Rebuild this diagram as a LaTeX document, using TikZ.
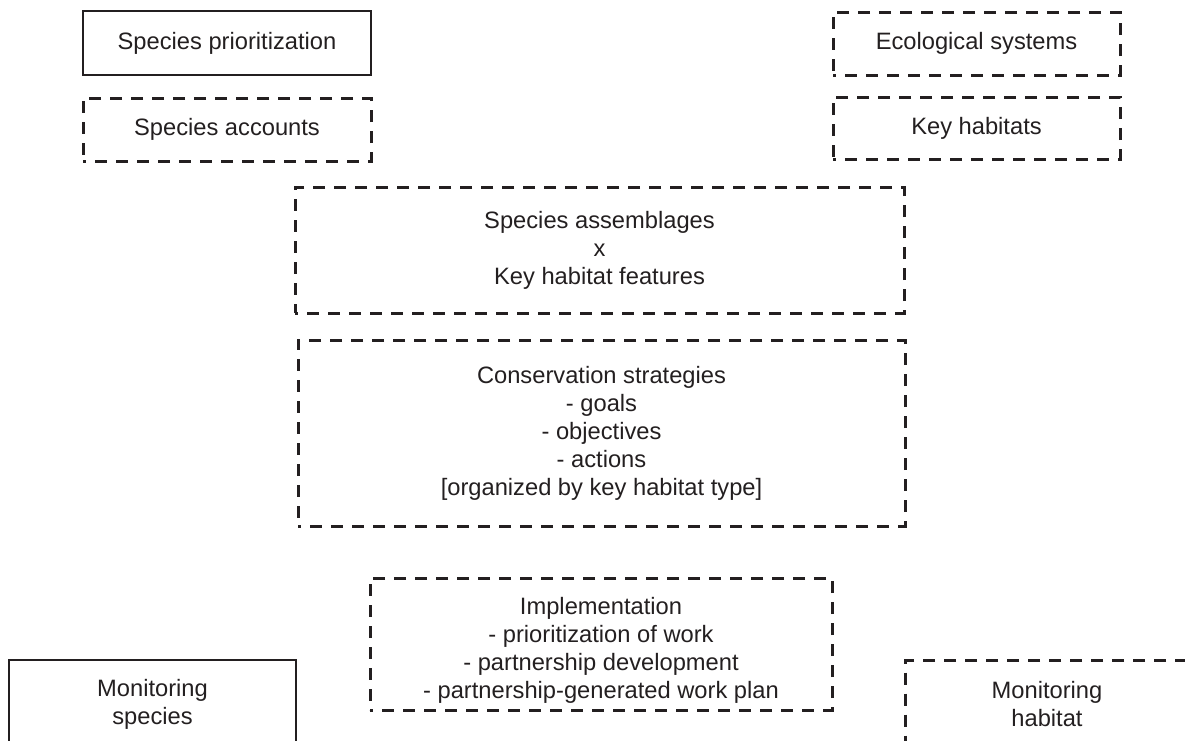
\documentclass[tikz,border=0pt]{standalone}
\usepackage{fontspec}
\setmainfont{Liberation Sans}
\definecolor{ink}{HTML}{231F20}
\begin{document}
\begin{tikzpicture}[x=1pt,y=-1pt,
  txt/.style={text=ink, align=center, font=\fontsize{23.7}{28}\selectfont, inner sep=0pt},
  box/.style={txt, draw=ink, line width=2.2pt},
  dbox/.style={box, line width=3pt, dash pattern=on 12pt off 9pt, dash phase=9pt}]
\useasboundingbox (0,0) rectangle (1185,740);
\clip (0,0) rectangle (1185,740);
\node[box,  minimum width=288, minimum height=64] (prio) at (227,43) {Species prioritization};
\node[dbox, minimum width=288, minimum height=63] (acc) at (227,129.5) {Species accounts};
\node[dbox, minimum width=287, minimum height=63] (eco) at (976.5,43.5) {Ecological systems};
\node[dbox, minimum width=287, minimum height=62] (kh) at (976.5,128) {Key habitats};
\node[dbox, minimum width=609, minimum height=126] (asm) at (599.5,250) {Species assemblages\\x\\Key habitat features};
\node[dbox, minimum width=607, minimum height=186] (cons) at (601.5,433) {Conservation strategies\\- goals\\- objectives\\- actions\\{[organized by key habitat type]}};
\node[dbox, minimum width=462, minimum height=132] (impl) at (601,644) {};
\node[txt] (implt) at (601,650) {Implementation\\- prioritization of work\\- partnership development\\- partnership-generated work plan};
\node[box, minimum width=287, minimum height=140, anchor=north] (ms) at (152.5,659) {};
\node[txt] (mst) at (152.5,704) {Monitoring\\species};
\node[dbox, minimum width=287, minimum height=140, anchor=north] (mh) at (1048.5,659) {};
\node[txt] (mht) at (1047,704) {Monitoring\\habitat};
\end{tikzpicture}
\end{document}
